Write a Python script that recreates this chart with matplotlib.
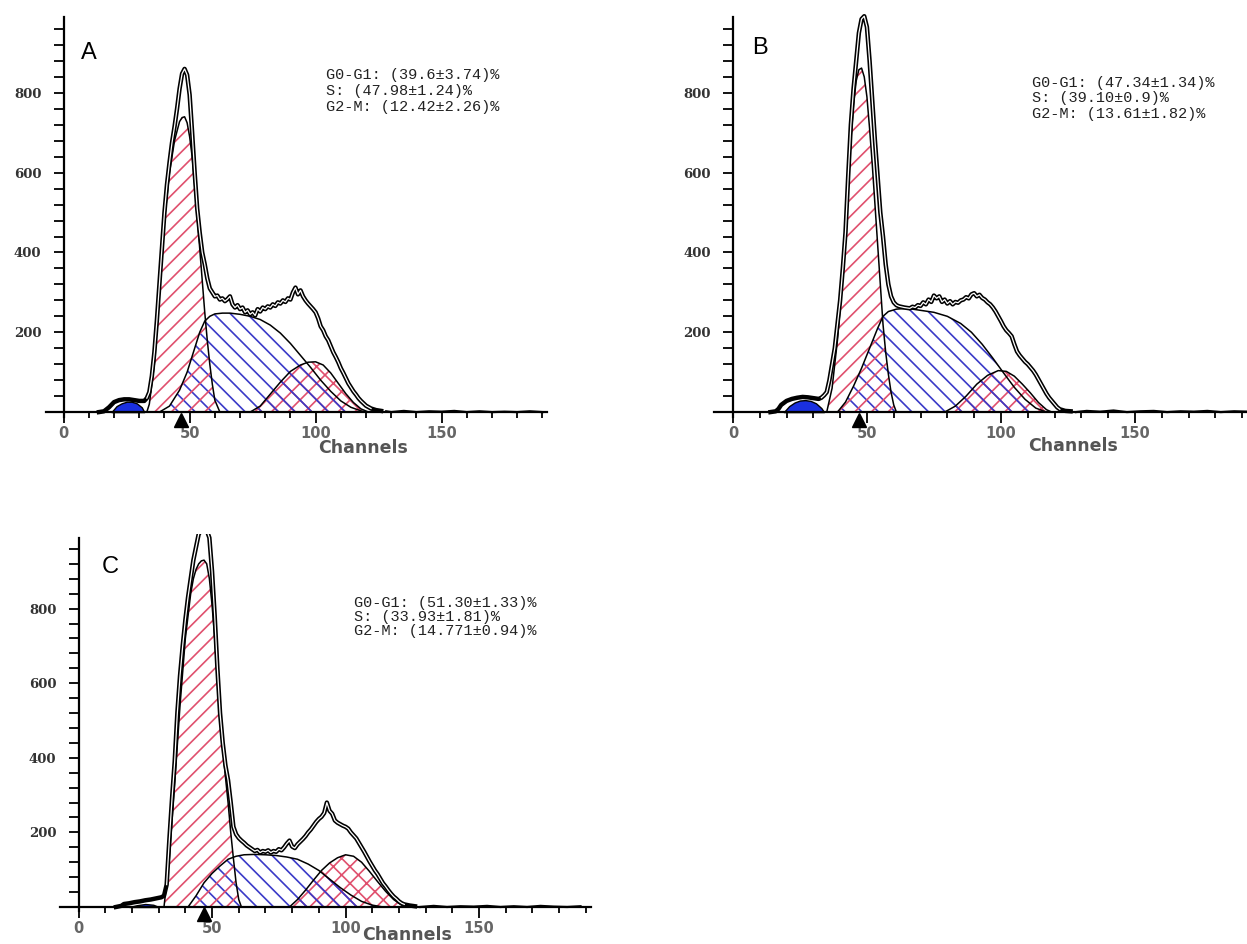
import matplotlib.pyplot as plt
import numpy as np
from matplotlib.ticker import FixedLocator, NullFormatter

# panel A ------------------------------------------------------------
a_data_x = [14, 16, 18, 20, 22, 24, 26, 28, 30, 32, 33, 34, 35, 36, 37, 38, 39, 40, 41, 42,
            43, 44, 45, 46, 47, 48, 49, 50, 51, 52, 53, 54, 55, 56, 57, 58, 59, 60, 61, 62,
            63, 64, 65, 66, 67, 68, 69, 70, 71, 72, 73, 74, 75, 76, 77, 78, 79, 80, 81, 82,
            83, 84, 85, 86, 87, 88, 89, 90, 91, 92, 93, 94, 95, 96, 97, 98, 99, 100, 101, 102,
            103, 104, 105, 106, 107, 108, 109, 110, 111, 112, 113, 114, 115, 116, 117, 118, 119, 120, 122, 124,
            126, 128, 130, 135, 140, 145, 150, 155, 160, 165, 170, 175, 180, 185, 190]
a_data_y = [0, 2, 12, 25, 30, 32, 32, 30, 28, 28, 35, 50, 90, 150, 230, 320, 410, 500, 570, 625,
            675, 715, 760, 810, 848, 860, 845, 795, 700, 600, 510, 450, 400, 370, 335, 310, 300, 290, 292, 282,
            285, 278, 283, 290, 270, 262, 268, 258, 262, 250, 255, 245, 250, 242, 258, 252, 262, 258, 265, 262,
            270, 266, 275, 272, 280, 276, 285, 282, 300, 312, 295, 305, 290, 280, 272, 265, 258, 250, 235, 215,
            205, 190, 180, 165, 150, 138, 125, 110, 98, 85, 72, 62, 52, 44, 35, 28, 22, 16, 9, 5,
            3, 2, 0, 3, 0, 2, 1, 3, 0, 2, 0, 1, 0, 2, 0]
a_g1_x = [33, 34, 36, 38, 40, 42, 44, 46, 47, 48, 49, 50, 51, 52, 53, 54, 55, 56, 57, 58, 59, 60, 62]
a_g1_y = [0, 20, 120, 300, 480, 600, 680, 728, 738, 740, 725, 690, 640, 570, 490, 410, 330, 250, 180, 120, 70, 30, 0]
a_s_x = [38, 42, 46, 49, 52, 54, 56, 58, 60, 63, 66, 70, 74, 78, 82, 86, 90, 94, 98, 102, 106, 110, 114, 118, 120]
a_s_y = [0, 15, 55, 100, 160, 200, 228, 240, 246, 248, 248, 245, 240, 232, 218, 198, 172, 142, 112, 80, 52, 28, 12, 3, 0]
a_g2m_x = [74, 78, 82, 86, 90, 94, 97, 100, 103, 106, 109, 112, 115, 118, 121]
a_g2m_y = [0, 15, 45, 75, 102, 118, 125, 126, 118, 98, 72, 46, 24, 8, 0]
a_deb_x = [19, 21, 23, 25, 27, 29, 31, 32]
a_deb_y = [0, 15, 22, 26, 26, 22, 12, 0]
a_peak = 46.5
a_stats = ["G0-G1: (39.6±3.74)%", "S: (47.98±1.24)%", "G2-M: (12.42±2.26)%"]

# panel B ------------------------------------------------------------
b_data_x = [14, 16, 17, 18, 20, 22, 24, 26, 28, 30, 32, 33, 34, 35, 36, 37, 38, 39, 40, 41,
            42, 43, 44, 45, 46, 47, 48, 49, 50, 51, 52, 53, 54, 55, 56, 57, 58, 59, 60, 61,
            62, 64, 66, 67, 68, 69, 70, 71, 72, 73, 74, 75, 76, 77, 78, 79, 80, 81, 82, 83,
            84, 85, 86, 87, 88, 89, 90, 91, 92, 93, 94, 95, 96, 97, 98, 99, 100, 101, 102, 103,
            104, 105, 106, 107, 108, 109, 110, 111, 112, 113, 114, 115, 116, 117, 118, 119, 120, 121, 122, 124,
            126, 128, 132, 137, 142, 147, 152, 157, 162, 167, 172, 177, 182, 187, 192]
b_data_y = [0, 2, 8, 18, 28, 33, 36, 38, 37, 35, 33, 36, 42, 50, 80, 120, 160, 220, 280, 360,
            450, 590, 720, 810, 880, 950, 985, 992, 965, 880, 780, 680, 590, 500, 440, 370, 320, 290, 275, 268,
            265, 262, 260, 264, 262, 268, 266, 275, 270, 282, 276, 292, 285, 290, 276, 282, 272, 278, 270, 276,
            274, 280, 282, 288, 285, 295, 298, 290, 294, 286, 282, 275, 270, 262, 252, 240, 228, 215, 205, 198,
            190, 170, 152, 142, 134, 126, 120, 112, 104, 94, 82, 70, 58, 46, 36, 28, 20, 12, 7, 3,
            2, 0, 3, 1, 4, 0, 2, 3, 0, 2, 1, 3, 0, 2, 1]
b_g1_x = [35, 37, 39, 41, 43, 44, 45, 46, 47, 48, 49, 50, 51, 52, 53, 54, 55, 56, 57, 58, 59, 60, 61]
b_g1_y = [0, 60, 180, 340, 560, 680, 770, 830, 858, 862, 840, 790, 710, 620, 520, 420, 320, 220, 150, 95, 50, 18, 0]
b_s_x = [39, 42, 45, 48, 51, 54, 56, 58, 61, 65, 70, 75, 80, 85, 89, 93, 97, 101, 105, 109, 113, 117]
b_s_y = [0, 25, 65, 110, 160, 210, 240, 252, 258, 260, 255, 250, 240, 222, 200, 170, 135, 98, 62, 32, 10, 0]
b_g2m_x = [79, 83, 87, 91, 95, 99, 102, 105, 108, 111, 114, 117, 119]
b_g2m_y = [0, 15, 40, 70, 92, 104, 102, 90, 70, 48, 24, 6, 0]
b_deb_x = [19, 21, 23, 25, 27, 29, 31, 33, 34]
b_deb_y = [0, 15, 24, 29, 30, 28, 22, 10, 0]
b_peak = 47
b_stats = ["G0-G1: (47.34±1.34)%", "S: (39.10±0.9)%", "G2-M: (13.61±1.82)%"]

# panel C ------------------------------------------------------------
c_data_x = [14, 16, 17, 19, 21, 23, 25, 27, 29, 31, 32, 33, 34, 35, 36, 37, 38, 39, 40, 41,
            42, 43, 44, 45, 46, 47, 48, 49, 50, 51, 52, 53, 54, 55, 56, 57, 58, 59, 60, 61,
            62, 63, 64, 65, 66, 67, 68, 69, 70, 71, 72, 73, 74, 75, 76, 77, 78, 79, 80, 81,
            82, 83, 84, 85, 86, 87, 88, 89, 90, 91, 92, 93, 94, 95, 96, 97, 98, 99, 100, 101,
            102, 103, 104, 105, 106, 107, 108, 109, 110, 111, 112, 113, 114, 115, 116, 117, 118, 119, 120, 121,
            122, 124, 126, 128, 133, 138, 143, 148, 153, 158, 163, 168, 173, 178, 183, 188]
c_data_y = [0, 3, 8, 10, 13, 15, 18, 20, 23, 26, 30, 60, 180, 290, 390, 520, 620, 700, 770, 830,
            880, 930, 965, 1000, 1010, 1015, 1010, 990, 900, 780, 640, 520, 440, 380, 340, 280, 215, 195, 185, 178,
            172, 165, 160, 155, 150, 153, 146, 150, 148, 152, 146, 150, 148, 155, 152, 160, 170, 178, 162, 158,
            168, 175, 182, 190, 200, 208, 218, 228, 236, 242, 252, 280, 258, 250, 232, 226, 222, 218, 215, 210,
            200, 192, 184, 172, 160, 148, 135, 122, 110, 98, 88, 76, 64, 55, 45, 36, 28, 22, 15, 10,
            7, 4, 2, 0, 3, 0, 2, 1, 3, 0, 2, 0, 3, 1, 0, 2]
c_g1_x = [32, 34, 36, 38, 40, 42, 43, 44, 45, 46, 47, 48, 49, 50, 51, 52, 53, 54, 55, 56, 57, 58, 59, 60, 61]
c_g1_y = [0, 130, 330, 540, 720, 840, 880, 905, 920, 928, 930, 920, 880, 810, 720, 620, 520, 430, 350, 280, 200, 130, 65, 20, 0]
c_s_x = [41, 44, 47, 50, 53, 56, 59, 62, 66, 70, 74, 78, 82, 86, 90, 94, 98, 102, 106, 110, 114]
c_s_y = [0, 30, 65, 90, 110, 128, 136, 140, 141, 140, 138, 134, 128, 115, 98, 75, 52, 32, 15, 5, 0]
c_g2m_x = [79, 82, 85, 88, 91, 94, 97, 100, 103, 106, 109, 112, 115, 118, 121, 123]
c_g2m_y = [0, 20, 45, 72, 98, 118, 132, 140, 136, 120, 95, 68, 42, 20, 5, 0]
c_deb_x = [19, 22, 25, 28, 30]
c_deb_y = [0, 5, 8, 6, 0]
c_peak = 47
c_stats = ["G0-G1: (51.30±1.33)%", "S: (33.93±1.81)%", "G2-M: (14.771±0.94)%"]

RED = '#e0506e'
BLUE = '#3a3ac8'
plt.rcParams['hatch.linewidth'] = 1.2


def draw_panel(ax, letter, data_x, data_y, g1, s, g2m, deb, peak, stats,
               stats_pos, letter_pos, chan_pos, stats_size):
    ax.set_xlim(-7, 192)
    ax.set_ylim(-60, 1000)

    # cell cycle components (hatched)
    ax.fill_between(g2m[0], g2m[1], 0, facecolor='none', edgecolor=RED, hatch='xx', lw=0)
    ax.fill_between(s[0], s[1], 0, facecolor='none', edgecolor=BLUE, hatch='\\\\', lw=0)
    ax.fill_between(g1[0], g1[1], 0, facecolor='none', edgecolor=RED, hatch='//', lw=0)
    ax.fill_between(deb[0], deb[1], 0, facecolor='#1a30e0', edgecolor='black', lw=1.0)
    for cx, cy in (g1, s, g2m):
        ax.plot(cx, cy, color='black', lw=1.1)

    # measured histogram drawn as a hollow double line
    dx = np.array(data_x)
    dy = np.array(data_y)
    main = dx <= 126
    ax.plot(dx[main], dy[main], color='black', lw=3.2, solid_joinstyle='round')
    inner = (dx >= 33) & (dx <= 122)
    ax.plot(dx[inner], dy[inner], color='white', lw=0.9)
    ax.plot(dx[~main], dy[~main], color='black', lw=1.6)

    ax.plot([peak], [-20], marker='^', color='black', markersize=10, clip_on=False)

    # axes styling
    for side in ('top', 'right'):
        ax.spines[side].set_visible(False)
    ax.spines['left'].set_position(('data', 0))
    ax.spines['bottom'].set_position(('data', 0))
    ax.spines['left'].set_bounds(-12, 990)
    ax.spines['left'].set_linewidth(1.6)
    ax.spines['bottom'].set_linewidth(1.6)

    ax.xaxis.set_major_locator(FixedLocator([0, 50, 100, 150]))
    ax.xaxis.set_minor_locator(FixedLocator([v for v in range(10, 200, 10) if v % 50]))
    ax.tick_params(axis='x', which='major', length=8, width=1.3, pad=2,
                   labelsize=10.5, labelcolor='#666666')
    ax.tick_params(axis='x', which='minor', length=4, width=1.3)
    for lab in ax.get_xticklabels():
        lab.set_fontweight('bold')

    ax.yaxis.set_major_locator(FixedLocator([200, 400, 600, 800]))
    ax.yaxis.set_minor_locator(FixedLocator([v for v in range(40, 1000, 40) if v % 200]))
    ax.yaxis.set_minor_formatter(NullFormatter())
    ax.tick_params(axis='y', which='both', length=7, width=1.3, pad=9)
    ax.tick_params(axis='y', which='major', labelsize=9.5, labelcolor='#333333')
    for lab in ax.get_yticklabels():
        lab.set_family('DejaVu Serif')
        lab.set_fontweight('bold')

    ax.text(chan_pos[0], chan_pos[1], 'Channels', ha='center', va='center',
            fontsize=12.5, color='#555555', fontweight='bold')
    ax.text(letter_pos[0], letter_pos[1], letter, ha='center', va='center',
            fontsize=17, family='Liberation Sans')
    for i, line in enumerate(stats):
        ax.text(stats_pos[0], stats_pos[1] - i * stats_pos[2], line, ha='left', va='center',
                fontsize=stats_size, family=['Liberation Mono', 'DejaVu Sans Mono'],
                color='#222222')


fig = plt.figure(figsize=(12.47, 9.44), dpi=100)
ax_a = fig.add_axes([0.0369, 0.5381, 0.4021, 0.4481])
ax_b = fig.add_axes([0.5727, 0.5381, 0.4277, 0.4481])
ax_c = fig.add_axes([0.0480, 0.0155, 0.4261, 0.4188])

draw_panel(ax_a, 'A', a_data_x, a_data_y, (a_g1_x, a_g1_y), (a_s_x, a_s_y),
           (a_g2m_x, a_g2m_y), (a_deb_x, a_deb_y), a_peak, a_stats,
           (104, 845, 40), (10, 900), (119, -90), 11)
draw_panel(ax_b, 'B', b_data_x, b_data_y, (b_g1_x, b_g1_y), (b_s_x, b_s_y),
           (b_g2m_x, b_g2m_y), (b_deb_x, b_deb_y), b_peak, b_stats,
           (111.5, 825, 39), (10, 912), (127, -85), 11)
draw_panel(ax_c, 'C', c_data_x, c_data_y, (c_g1_x, c_g1_y), (c_s_x, c_s_y),
           (c_g2m_x, c_g2m_y), (c_deb_x, c_deb_y), c_peak, c_stats,
           (103, 815, 37), (12, 911), (123, -76), 11)

fig.savefig('out.png', dpi=100, facecolor='white')
